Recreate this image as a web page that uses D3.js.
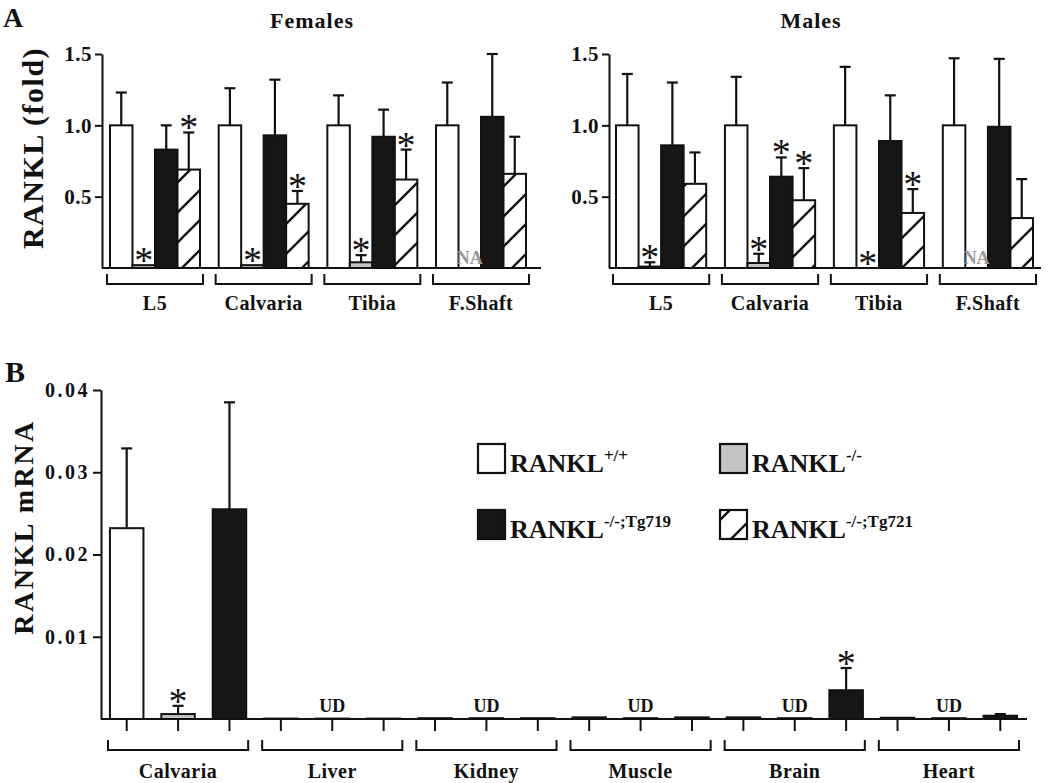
<!DOCTYPE html>
<html><head><meta charset="utf-8">
<script src="https://cdn.jsdelivr.net/npm/d3@7"></script>
<style>
body{margin:0;background:#fff}
text{font-family:"Liberation Serif","Times New Roman",serif;font-weight:bold;fill:#111}
</style>
</head><body>
<svg id="c" width="1050" height="783"></svg>
<script>
// ---------------- DATA ----------------
const sitesA = ["L5", "Calvaria", "Tibia", "F.Shaft"];
const seriesKeys = ["wt", "ko", "tg719", "tg721"];
// Females (fold), mean and SEM
const femWT = [1.0, 1.0, 1.0, 1.0];
const femWTerr = [0.23, 0.26, 0.21, 0.30];
const femKO = [0.02, 0.02, 0.04, null];
const femKOerr = [0.0, 0.0, 0.05, null];
const femTg719 = [0.83, 0.93, 0.92, 1.06];
const femTg719err = [0.17, 0.39, 0.19, 0.44];
const femTg721 = [0.69, 0.45, 0.62, 0.66];
const femTg721err = [0.26, 0.09, 0.21, 0.26];
const femStars = {ko: [1, 1, 1, 0], tg719: [0, 0, 0, 0], tg721: [1, 1, 1, 0], wt: [0, 0, 0, 0]};
// Males
const maleWT = [1.0, 1.0, 1.0, 1.0];
const maleWTerr = [0.36, 0.34, 0.41, 0.47];
const maleKO = [0.01, 0.035, 0.0, null];
const maleKOerr = [0.03, 0.065, 0.0, null];
const maleTg719 = [0.86, 0.64, 0.89, 0.99];
const maleTg719err = [0.44, 0.135, 0.32, 0.476];
const maleTg721 = [0.59, 0.475, 0.386, 0.35];
const maleTg721err = [0.22, 0.225, 0.167, 0.273];
const maleStars = {ko: [1, 1, 1, 0], tg719: [0, 1, 0, 0], tg721: [0, 1, 1, 0], wt: [0, 0, 0, 0]};
const ticksA = [0.5, 1.0, 1.5];

// Panel B: RANKL mRNA
const organs = ["Calvaria", "Liver", "Kidney", "Muscle", "Brain", "Heart"];
const seriesB = ["wt", "ko", "tg719"];
const bWT = [0.0232, 0.00005, 0.0001, 0.0002, 0.0002, 0.00015];
const bWTerr = [0.0097, 0, 0, 0, 0, 0];
const bKO = [0.0006, 0.00005, 0.0001, 0.0001, 0.0001, 0.0001];
const bKOerr = [0.001, 0, 0, 0, 0, 0];
const bTg719 = [0.0255, 0.00005, 0.0001, 0.0002, 0.0035, 0.0004];
const bTg719err = [0.013, 0, 0, 0, 0.0027, 0.0002];
const bStars = {wt: [0,0,0,0,0,0], ko: [1,0,0,0,0,0], tg719: [0,0,0,0,1,0]};
const bUD = [0, 1, 1, 1, 1, 1];
const ticksB = [0.01, 0.02, 0.03, 0.04];

const legendItems = [
  {key: "wt", base: "RANKL", sup: "+/+"},
  {key: "ko", base: "RANKL", sup: "-/-"},
  {key: "tg719", base: "RANKL", sup: "-/-;Tg719"},
  {key: "tg721", base: "RANKL", sup: "-/-;Tg721"}
];

// ---------------- DRAW ----------------
const svg = d3.select("#c");
const ink = "#111";
const defs = svg.append("defs");
const hp = defs.append("pattern").attr("id", "hatch").attr("patternUnits", "userSpaceOnUse")
  .attr("width", 30).attr("height", 30);
hp.append("rect").attr("width", 30).attr("height", 30).attr("fill", "#fff");
hp.append("path").attr("d", "M-3,33 L33,-3 M-18,18 L18,-18 M12,48 L48,12")
  .attr("stroke", ink).attr("stroke-width", 2.4);
const lp = defs.append("pattern").attr("id", "hatchL").attr("patternUnits", "userSpaceOnUse")
  .attr("width", 30).attr("height", 30).attr("x", 4).attr("y", 6);
lp.append("rect").attr("width", 30).attr("height", 30).attr("fill", "#fff");
lp.append("path").attr("d", "M-3,33 L33,-3 M-18,18 L18,-18 M12,48 L48,12")
  .attr("stroke", ink).attr("stroke-width", 2.4);

const fills = {wt: "#fff", ko: "#c4c4c4", tg719: "#161616", tg721: "url(#hatch)"};

function drawBarSet(g, cx0, w, yS, v, e, key, star) {
  if (v === null) return;
  const y0 = yS(0);
  g.append("rect").attr("x", cx0).attr("y", yS(v)).attr("width", w)
    .attr("height", Math.max(0, y0 - yS(v)))
    .attr("fill", fills[key]).attr("stroke", ink).attr("stroke-width", 2);
  const cx = cx0 + w / 2;
  let top = yS(v);
  if (e > 0) {
    top = yS(v + e);
    g.append("line").attr("x1", cx).attr("x2", cx).attr("y1", yS(v)).attr("y2", top)
      .attr("stroke", ink).attr("stroke-width", 2.2);
    g.append("line").attr("x1", cx - 5.5).attr("x2", cx + 5.5).attr("y1", top).attr("y2", top)
      .attr("stroke", ink).attr("stroke-width", 2.2);
  }
  if (star) {
    g.append("text").attr("x", cx).attr("y", top + 8).attr("text-anchor", "middle")
      .style("font-size", "38px").style("font-weight", "normal").text("*");
  }
}

function panelA(opts) {
  const g = svg.append("g");
  const y = d3.scaleLinear().domain([0, 1.5]).range([268, 54]);
  const xg = d3.scaleBand().domain(sitesA).range(opts.range).paddingInner(0.172).paddingOuter(0);
  const xi = d3.scaleBand().domain(seriesKeys).range([0, xg.bandwidth()]).padding(0);
  const ax = g.append("g").attr("transform", `translate(${opts.axisX},0)`)
    .call(d3.axisLeft(y).tickValues(ticksA).tickFormat(d3.format(".1f")).tickSize(7).tickSizeOuter(0).tickPadding(3));
  ax.select(".domain").attr("stroke", ink).attr("stroke-width", 2);
  ax.selectAll(".tick line").attr("stroke", ink).attr("stroke-width", 2);
  ax.selectAll(".tick text").style("font-size", "21px").style("letter-spacing", "0.5px").attr("fill", ink);
  g.append("line").attr("x1", opts.axisX).attr("x2", opts.axisEnd).attr("y1", y(0)).attr("y2", y(0))
    .attr("stroke", ink).attr("stroke-width", 2);
  const naLabels = [];
  sitesA.forEach((s, i) => {
    const gx = xg(s);
    seriesKeys.forEach(k => {
      const d = opts.data[k];
      drawBarSet(g, gx + xi(k), xi.bandwidth(), y, d.v[i], d.e[i], k, opts.stars[k][i]);
      if (d.v[i] === null) naLabels.push(gx + xi(k) + xi.bandwidth() / 2);
    });
    const b0 = gx - 3, b1 = gx + xg.bandwidth() + 3;
    g.append("path").attr("d", `M${b0},274 V284 H${b1} V274`).attr("fill", "none")
      .attr("stroke", ink).attr("stroke-width", 2);
    g.append("text").attr("x", gx + xg.bandwidth() / 2).attr("y", 310).attr("text-anchor", "middle")
      .style("font-size", "20px").style("letter-spacing", "0.5px").text(s);
  });
  naLabels.forEach(cx => {
    g.append("text").attr("x", cx).attr("y", y(0) - 4)
      .attr("text-anchor", "middle").style("font-size", "18px").style("fill", "#9a9a9a").text("NA");
  });
  g.append("text").attr("x", opts.titleX).attr("y", 28).attr("text-anchor", "middle")
    .style("font-size", "22px").style("letter-spacing", "1px").text(opts.title);
}

panelA({
  range: [110, 526], axisX: 102, axisEnd: 541, title: "Females", titleX: 312,
  data: {wt: {v: femWT, e: femWTerr}, ko: {v: femKO, e: femKOerr}, tg719: {v: femTg719, e: femTg719err}, tg721: {v: femTg721, e: femTg721err}},
  stars: femStars
});
panelA({
  range: [616, 1033], axisX: 609, axisEnd: 1041, title: "Males", titleX: 811,
  data: {wt: {v: maleWT, e: maleWTerr}, ko: {v: maleKO, e: maleKOerr}, tg719: {v: maleTg719, e: maleTg719err}, tg721: {v: maleTg721, e: maleTg721err}},
  stars: maleStars
});

svg.append("text").attr("x", 3).attr("y", 27).style("font-size", "28px").text("A");
svg.append("text").attr("transform", "translate(43,148) rotate(-90)").attr("text-anchor", "middle")
  .style("font-size", "30px").style("letter-spacing", "1.5px").text("RANKL (fold)");

// Panel B
(function () {
  const g = svg.append("g");
  const y = d3.scaleLinear().domain([0, 0.04]).range([719, 390]);
  const xg = d3.scaleBand().domain(organs).range([101, 1026]).padding(0);
  const xi = d3.scaleBand().domain(seriesB).range([0, xg.bandwidth()]).paddingInner(0.348).paddingOuter(0.174);
  const ax = g.append("g").attr("transform", "translate(101,0)")
    .call(d3.axisLeft(y).tickValues(ticksB).tickFormat(d3.format(".2f")).tickSize(8).tickSizeOuter(0).tickPadding(3));
  ax.select(".domain").attr("stroke", ink).attr("stroke-width", 2);
  ax.selectAll(".tick line").attr("stroke", ink).attr("stroke-width", 2);
  ax.selectAll(".tick text").style("font-size", "20px").style("letter-spacing", "2.5px").attr("fill", ink);
  g.append("line").attr("x1", 101).attr("x2", 1027).attr("y1", y(0)).attr("y2", y(0))
    .attr("stroke", ink).attr("stroke-width", 2);
  const data = {wt: {v: bWT, e: bWTerr}, ko: {v: bKO, e: bKOerr}, tg719: {v: bTg719, e: bTg719err}};
  organs.forEach((o, i) => {
    const gx = xg(o);
    seriesB.forEach(k => {
      const x0 = gx + xi(k);
      drawBarSet(g, x0, xi.bandwidth(), y, data[k].v[i], data[k].e[i], k, bStars[k][i]);
      const cx = x0 + xi.bandwidth() / 2;
      g.append("line").attr("x1", cx).attr("x2", cx).attr("y1", y(0)).attr("y2", y(0) + 12)
        .attr("stroke", ink).attr("stroke-width", 2);
    });
    if (bUD[i]) {
      g.append("text").attr("x", gx + xi("ko") + xi.bandwidth() / 2).attr("y", 712)
        .attr("text-anchor", "middle").style("font-size", "18px").text("UD");
    }
    const b0 = gx + 7, b1 = gx + xg.bandwidth() - 7;
    g.append("path").attr("d", `M${b0},740 V750 H${b1} V740`).attr("fill", "none")
      .attr("stroke", ink).attr("stroke-width", 2);
    g.append("text").attr("x", gx + xg.bandwidth() / 2).attr("y", 778).attr("text-anchor", "middle")
      .style("font-size", "20px").style("letter-spacing", "0.5px").text(o);
  });
})();

svg.append("text").attr("x", 5).attr("y", 382).style("font-size", "30px").text("B");
svg.append("text").attr("transform", "translate(33,527) rotate(-90)").attr("text-anchor", "middle")
  .style("font-size", "28px").style("letter-spacing", "2.5px").text("RANKL mRNA");

// Legend
const legPos = [[478, 444, 510], [720, 444, 752], [478, 510, 510], [720, 510, 752]];
const legFill = {wt: "#fff", ko: "#c4c4c4", tg719: "#161616", tg721: "url(#hatchL)"};
legendItems.forEach((it, i) => {
  const [bx, by, tx] = legPos[i];
  svg.append("rect").attr("x", bx).attr("y", by).attr("width", 27).attr("height", 29)
    .attr("fill", legFill[it.key]).attr("stroke", ink).attr("stroke-width", 2.2);
  const t = svg.append("text").attr("x", tx).attr("y", by + 28).style("font-size", "26px");
  t.append("tspan").text(it.base);
  t.append("tspan").attr("dy", -11).style("font-size", "17px").text(it.sup);
});
</script>
</body></html>
